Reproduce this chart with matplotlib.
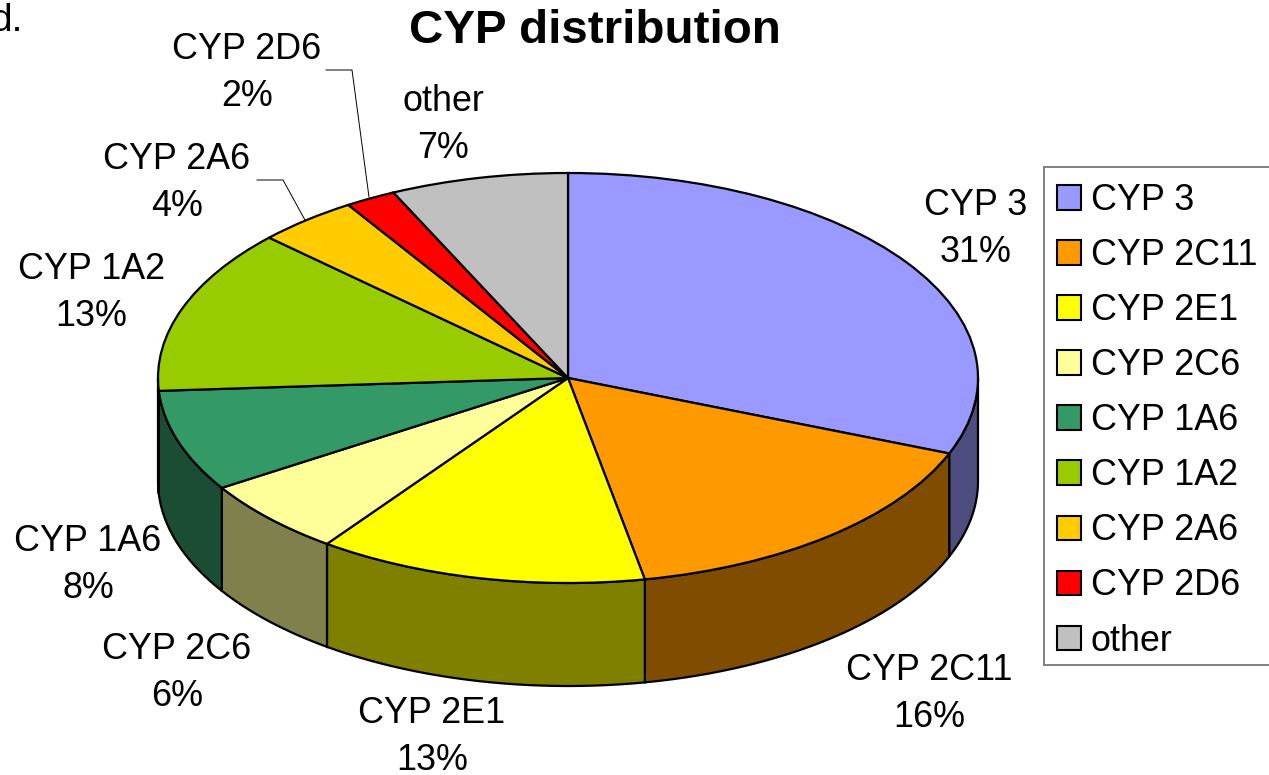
import numpy as np
import matplotlib
matplotlib.use("Agg")
import matplotlib.pyplot as plt
from matplotlib.colors import to_rgb
from matplotlib.lines import Line2D
from matplotlib.patches import Rectangle

plt.rcParams['font.family'] = ['Liberation Sans', 'DejaVu Sans']

names = ['CYP 3', 'CYP 2C11', 'CYP 2E1', 'CYP 2C6', 'CYP 1A6',
         'CYP 1A2', 'CYP 2A6', 'CYP 2D6', 'other']
shares = [31, 16, 13, 6, 8, 13, 4, 2, 7]
colors = ['#9999FF', '#FF9900', '#FFFF00', '#FFFF99', '#339966',
          '#99CC00', '#FFCC00', '#FF0000', '#C0C0C0']
# label centres, in pixels of the picture
label_px = [(976, 229), (929, 694), (432, 737), (177, 673), (88, 565),
            (91, 293), (177, 183), (247, 73), (443, 125)]

W, H = 1269, 775
CX, CY, RX, RY = 568, 378, 410, 205
DEPTH = 103 / RY
FONT = 25.8


def fx(px):
    return px / W


def fy(py):
    return 1 - py / H


fig = plt.figure(figsize=(W / 100, H / 100), dpi=100)
ax = fig.add_axes([0, 0, 1, 1])

wedges, _ = ax.pie(shares, colors=colors, startangle=90, counterclock=False,
                   wedgeprops=dict(edgecolor='black', linewidth=1.6, zorder=3))
# squash the pie: one unit is RX wide and RY high
ax.set_aspect('auto')
ax.set_xlim((0 - CX) / RX, (W - CX) / RX)
ax.set_ylim((CY - H) / RY, CY / RY)
ax.axis('off')

# side walls, only the part of each slice facing front
edges = np.cumsum([0] + shares) / sum(shares) * 360
for i, col in enumerate(colors):
    a1 = max(edges[i], 90)
    a2 = min(edges[i + 1], 270)
    if a2 <= a1:
        continue
    t = np.radians(np.linspace(a1, a2, 60))
    xs = np.sin(t)
    ys = np.cos(t)
    dark = [c * 0.5 for c in to_rgb(col)]
    ax.fill(np.r_[xs, xs[::-1]], np.r_[ys, ys[::-1] - DEPTH],
            facecolor=dark, edgecolor='black', linewidth=1.6, zorder=2)

fig.text(fx(595), fy(31), 'CYP distribution', fontsize=34.2, fontweight='bold',
         ha='center', va='center')
fig.text(fx(23), fy(31), 'd.', fontsize=28, ha='right', va='baseline')

for name, share, (px, py) in zip(names, shares, label_px):
    fig.text(fx(px), fy(py), f'{name}\n{share}%', fontsize=FONT,
             ha='center', va='center', linespacing=1.42)

# leader lines of the two small slices
for xs, ys in [([326, 352, 369], [70, 70, 197]), ([257, 283, 305], [180, 180, 220])]:
    fig.add_artist(Line2D([fx(v) for v in xs], [fy(v) for v in ys],
                          color='black', linewidth=0.7))

# legend frame runs off the right edge of the picture
ax.add_patch(Rectangle((fx(1044), fy(665)), fx(240), fy(167) - fy(665),
                       transform=fig.transFigure, facecolor='white',
                       edgecolor='#808080', linewidth=1.4, zorder=4, clip_on=False))
leg = ax.legend(wedges, names, loc='upper left',
                bbox_to_anchor=(fx(1057), fy(183)), bbox_transform=fig.transFigure,
                fontsize=FONT, frameon=False, borderaxespad=0, borderpad=0,
                handlelength=0.68, handleheight=0.68,
                handletextpad=0.26, labelspacing=0.56)
leg.set_zorder(5)
for h in leg.legend_handles:
    h.set_linewidth(1.5)

fig.savefig('out.png', dpi=100)
